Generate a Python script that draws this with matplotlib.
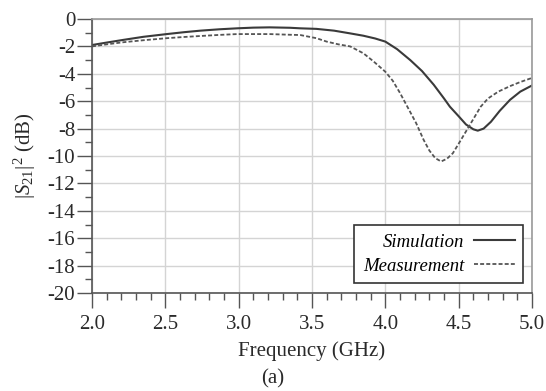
import matplotlib.pyplot as plt
from matplotlib.ticker import MultipleLocator

# values
sim_freq = [2.0, 2.1, 2.21, 2.35, 2.51, 2.63, 2.74, 2.87, 2.99, 3.1, 3.21, 3.35,
            3.42, 3.53, 3.65, 3.76, 3.85, 3.93, 4.0, 4.08, 4.17, 4.25, 4.33, 4.4,
            4.44, 4.5, 4.55, 4.6, 4.63, 4.67, 4.72, 4.78, 4.85, 4.92, 5.0]
sim_db = [-1.9, -1.72, -1.53, -1.3, -1.1, -0.96, -0.85, -0.75, -0.68, -0.63, -0.61, -0.64,
          -0.68, -0.72, -0.85, -1.05, -1.22, -1.42, -1.65, -2.2, -3.0, -3.8, -4.8, -5.8,
          -6.4, -7.1, -7.7, -8.05, -8.15, -8.0, -7.5, -6.7, -5.9, -5.3, -4.85]

meas_freq = [2.0, 2.1, 2.21, 2.35, 2.51, 2.63, 2.74, 2.87, 2.99, 3.1, 3.21, 3.35,
             3.42, 3.53, 3.6, 3.68, 3.76, 3.85, 3.92, 4.0, 4.05, 4.1, 4.15, 4.21,
             4.26, 4.3, 4.34, 4.38, 4.42, 4.46, 4.5, 4.55, 4.6, 4.65, 4.7, 4.77,
             4.85, 4.92, 5.0]
meas_db = [-2.0, -1.85, -1.7, -1.55, -1.4, -1.31, -1.24, -1.16, -1.1, -1.1, -1.1, -1.15,
           -1.17, -1.4, -1.65, -1.85, -2.0, -2.5, -3.1, -3.85, -4.5, -5.4, -6.4, -7.6,
           -8.8, -9.6, -10.15, -10.4, -10.2, -9.8, -9.1, -8.2, -7.3, -6.4, -5.8, -5.3,
           -4.9, -4.6, -4.3]

x_ticks = [2.0, 2.5, 3.0, 3.5, 4.0, 4.5, 5.0]
y_ticks = list(range(-20, 1, 2))

plt.rcParams['font.family'] = ['Liberation Serif', 'DejaVu Serif']
plt.rcParams['mathtext.fontset'] = 'custom'
plt.rcParams['mathtext.rm'] = 'Liberation Serif'
plt.rcParams['mathtext.it'] = 'Liberation Serif:italic'

txt = '#2a2a2a'

fig = plt.figure(figsize=(5.46, 3.91), dpi=100)
ax = fig.add_axes([0.1685, 0.2506, 0.8059, 0.7008])

ax.plot(sim_freq, sim_db, color='#3a3a3a', lw=1.5, label='Simulation')
ax.plot(meas_freq, meas_db, color='#555555', lw=1.3, ls=(0, (2.2, 1.2)), label='Measurement')

ax.set_xlim(2.0, 5.0)
ax.set_ylim(-20, 0)
ax.set_xticks(x_ticks)
ax.set_xticklabels([f'{v:.1f}' for v in x_ticks])
ax.set_yticks(y_ticks)
ax.set_yticklabels([str(v) for v in y_ticks])
ax.xaxis.set_minor_locator(MultipleLocator(0.1))
ax.yaxis.set_minor_locator(MultipleLocator(1))

ax.grid(True, which='major', color='#d4d4d4', lw=1)
ax.set_axisbelow(True)
ax.tick_params(which='major', direction='out', length=11, width=1, color='#555555',
               labelsize=15, pad=1, labelcolor=txt)
ax.tick_params(axis='x', which='major', pad=5)
ax.tick_params(which='minor', direction='out', length=5, width=1, color='#555555')
for s in ['left', 'bottom']:
    ax.spines[s].set_color('#555555')
    ax.spines[s].set_linewidth(1.2)
for s in ['top', 'right']:
    ax.spines[s].set_color('#999999')
    ax.spines[s].set_linewidth(1.2)

ax.set_xlabel('Frequency (GHz)', fontsize=15, color=txt, labelpad=5)
ax.set_ylabel(r'$|S_{\mathit{21}}|^2$ (dB)', fontsize=15, color=txt, labelpad=7)

leg = ax.legend(loc='lower right', bbox_to_anchor=(0.98, 0.036), markerfirst=False,
                fancybox=False, edgecolor='#333333', framealpha=1,
                prop={'family': 'Liberation Serif', 'style': 'italic', 'size': 13.5},
                handlelength=2.2, borderpad=0.45, labelspacing=0.35, handletextpad=0.5,
                borderaxespad=0)
leg.get_frame().set_linewidth(1.2)

fig.text(0.5, 0.03, '(a)', ha='center', va='center', fontsize=15, color=txt)

fig.savefig('out.png', dpi=100)
